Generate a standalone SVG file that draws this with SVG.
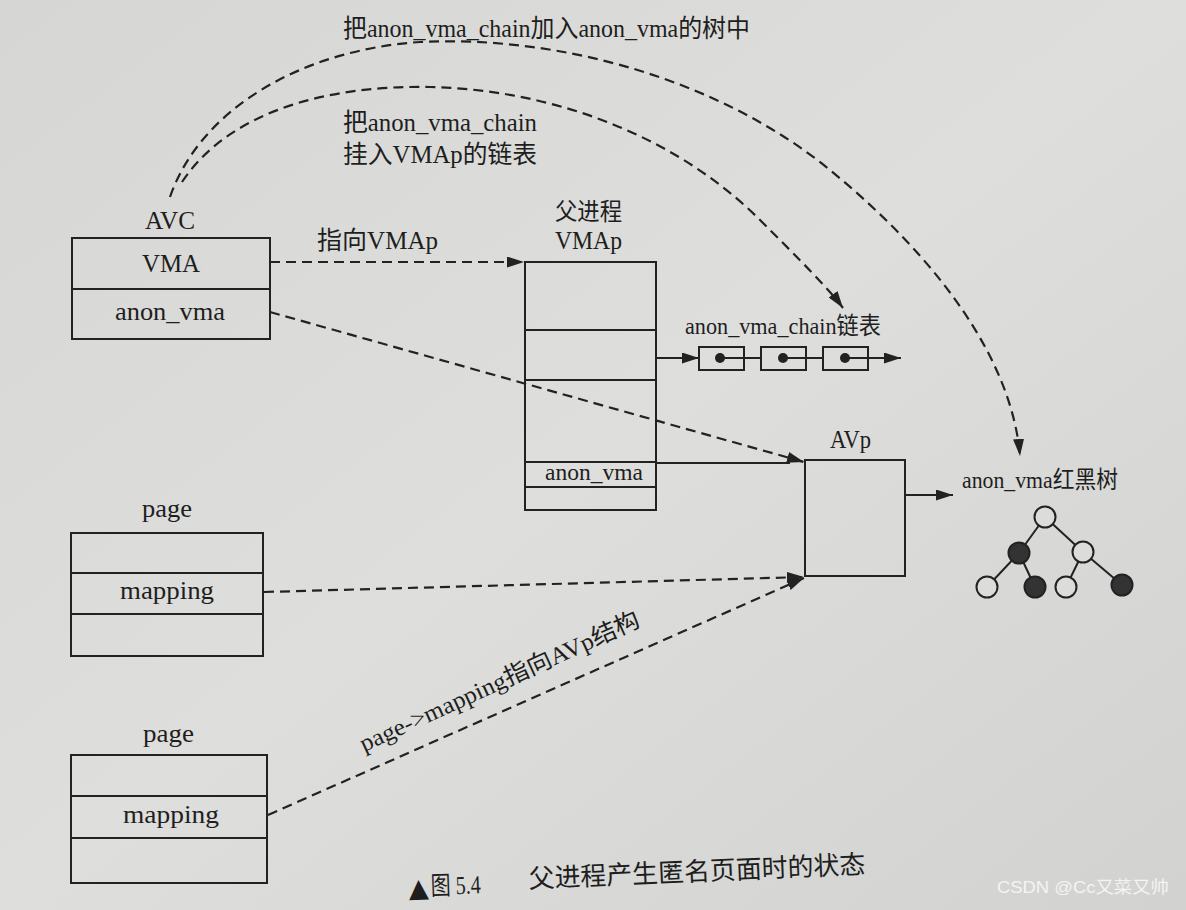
<svg xmlns="http://www.w3.org/2000/svg" width="1186" height="910" viewBox="0 0 1186 910">
<defs>
<linearGradient id="bg" x1="0" y1="0" x2="1" y2="1">
<stop offset="0" stop-color="#d6d6d4"/>
<stop offset="0.5" stop-color="#dededc"/>
<stop offset="1" stop-color="#d2d2d0"/>
</linearGradient>
<marker id="ah" markerWidth="17" markerHeight="11" refX="17" refY="5.5" orient="auto" markerUnits="userSpaceOnUse">
<path d="M0,0 L17,5.5 L0,11 z" fill="#222"/>
</marker>
<style>
.t{font-family:"Liberation Serif","Noto Sans CJK SC",serif;fill:#1e1e1e;}
.box{fill:none;stroke:#222;stroke-width:2;}
.ln{fill:none;stroke:#222;stroke-width:2;}
.dash{fill:none;stroke:#222;stroke-width:2.2;stroke-dasharray:10,6;}
.arr{marker-end:url(#ah);}
.wc{fill:#dcdcda;stroke:#222;stroke-width:2;}
.bc{fill:#333;stroke:#222;stroke-width:2;}
</style>
</defs>
<rect x="0" y="0" width="1186" height="910" fill="url(#bg)"/>

<g id="connectors">
<path class="dash arr" d="M170,197 C200,110 300,50 420,42 C560,35 720,80 830,170 C942,262 1012,362 1020,456"/>
<path class="dash arr" d="M182,182 C230,110 330,85 430,87 C560,90 680,140 760,220 C800,260 830,290 843,308"/>
<path class="dash arr" d="M270,262 L524,262"/>
<path class="dash arr" d="M270,312 L804,462"/>
<path class="ln" d="M656,463 L790,463"/>
<path class="dash arr" d="M264,592 L804,577"/>
<path class="dash arr" d="M268,815 L804,578"/>
<path class="ln arr" d="M656,358 L699,358"/>
<path class="ln" d="M720,358 L761,358 M783,358 L823,358"/>
<path class="ln arr" d="M845,358 L901,358"/>
<path class="ln arr" d="M905,495 L953,495"/>
</g>

<g id="labels">
<text class="t" x="343" y="37" font-size="25" textLength="407" lengthAdjust="spacingAndGlyphs">把anon_vma_chain加入anon_vma的树中</text>
<text class="t" x="343" y="131" font-size="25" textLength="194" lengthAdjust="spacingAndGlyphs">把anon_vma_chain</text>
<text class="t" x="343" y="163" font-size="25" textLength="194" lengthAdjust="spacingAndGlyphs">挂入VMAp的链表</text>
<text class="t" x="317" y="249" font-size="25" textLength="121" lengthAdjust="spacingAndGlyphs">指向VMAp</text>
<text class="t" x="364" y="752" font-size="24" textLength="305" lengthAdjust="spacingAndGlyphs" transform="rotate(-24.5 364 752)">page-&gt;mapping指向AVp结构</text>
</g>

<g id="avc">
<text class="t" x="145" y="229" font-size="26" textLength="50" lengthAdjust="spacingAndGlyphs">AVC</text>
<rect class="box" x="72" y="238" width="198" height="101"/>
<line class="ln" x1="72" y1="289" x2="270" y2="289"/>
<text class="t" x="142" y="272" font-size="26" textLength="58" lengthAdjust="spacingAndGlyphs">VMA</text>
<text class="t" x="115" y="320" font-size="26" textLength="110" lengthAdjust="spacingAndGlyphs">anon_vma</text>
</g>

<g id="vmap">
<text class="t" x="555" y="220" font-size="24" textLength="67" lengthAdjust="spacingAndGlyphs">父进程</text>
<text class="t" x="555" y="249" font-size="26" textLength="67" lengthAdjust="spacingAndGlyphs">VMAp</text>
<rect class="box" x="525" y="262" width="131" height="248"/>
<line class="ln" x1="525" y1="330" x2="656" y2="330"/>
<line class="ln" x1="525" y1="380" x2="656" y2="380"/>
<line class="ln" x1="525" y1="462" x2="656" y2="462"/>
<line class="ln" x1="525" y1="487" x2="656" y2="487"/>
<text class="t" x="545" y="480" font-size="23" textLength="98" lengthAdjust="spacingAndGlyphs">anon_vma</text>
</g>

<g id="chain">
<text class="t" x="685" y="334" font-size="24" textLength="196" lengthAdjust="spacingAndGlyphs">anon_vma_chain链表</text>
<rect class="box" x="699" y="347" width="45" height="23"/>
<rect class="box" x="761" y="347" width="45" height="23"/>
<rect class="box" x="823" y="347" width="45" height="23"/>
<circle cx="720" cy="358" r="5" fill="#222"/>
<circle cx="783" cy="358" r="5" fill="#222"/>
<circle cx="845" cy="358" r="5" fill="#222"/>
</g>

<g id="avp">
<text class="t" x="830" y="448" font-size="26" textLength="41" lengthAdjust="spacingAndGlyphs">AVp</text>
<rect class="box" x="805" y="460" width="100" height="116"/>
</g>

<g id="rbtree">
<text class="t" x="962" y="488" font-size="24" textLength="156" lengthAdjust="spacingAndGlyphs">anon_vma红黑树</text>
<path class="ln" d="M1045,517 L1019,553 M1045,517 L1083,552 M1019,553 L987,587 M1019,553 L1035,587 M1083,552 L1066,587 M1083,552 L1122,585"/>
<circle class="wc" cx="1045" cy="517" r="10.5"/>
<circle class="bc" cx="1019" cy="553" r="10.5"/>
<circle class="wc" cx="1083" cy="552" r="10.5"/>
<circle class="wc" cx="987" cy="587" r="10.5"/>
<circle class="bc" cx="1035" cy="587" r="10.5"/>
<circle class="wc" cx="1066" cy="587" r="10.5"/>
<circle class="bc" cx="1122" cy="585" r="10.5"/>
</g>

<g id="page1">
<text class="t" x="142" y="517" font-size="26" textLength="50" lengthAdjust="spacingAndGlyphs">page</text>
<rect class="box" x="71" y="533" width="192" height="123"/>
<line class="ln" x1="71" y1="573" x2="263" y2="573"/>
<line class="ln" x1="71" y1="614" x2="263" y2="614"/>
<text class="t" x="120" y="599" font-size="26" textLength="94" lengthAdjust="spacingAndGlyphs">mapping</text>
</g>

<g id="page2">
<text class="t" x="143" y="742" font-size="26" textLength="51" lengthAdjust="spacingAndGlyphs">page</text>
<rect class="box" x="71" y="755" width="196" height="128"/>
<line class="ln" x1="71" y1="796" x2="267" y2="796"/>
<line class="ln" x1="71" y1="838" x2="267" y2="838"/>
<text class="t" x="123" y="823" font-size="26" textLength="96" lengthAdjust="spacingAndGlyphs">mapping</text>
</g>

<g id="caption">
<text x="409" y="897" font-size="26" font-family="DejaVu Sans,sans-serif" fill="#1e1e1e" transform="rotate(-2 409 897)">▲</text>
<text class="t" x="431" y="895" font-size="26" textLength="50" lengthAdjust="spacingAndGlyphs" transform="rotate(-2 431 895)">图 5.4</text>
<text class="t" x="529" y="888" font-size="26" textLength="337" lengthAdjust="spacingAndGlyphs" transform="rotate(-2.5 529 888)">父进程产生匿名页面时的状态</text>
<text x="997" y="893" font-size="17" font-family="Liberation Sans,Noto Sans CJK SC,sans-serif" fill="#f4f4f4" textLength="172" lengthAdjust="spacingAndGlyphs">CSDN @Cc又菜又帅</text>
</g>
</svg>
